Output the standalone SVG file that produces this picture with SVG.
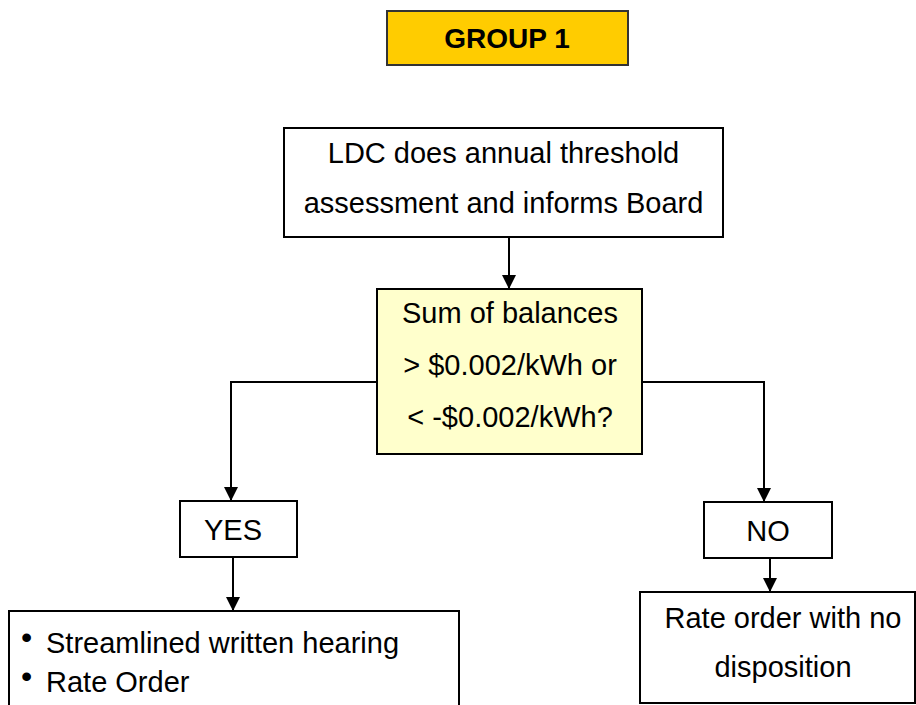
<svg xmlns="http://www.w3.org/2000/svg" width="916" height="705" viewBox="0 0 916 705">
<defs>
<style>
text{font-family:"Liberation Sans",Arial,sans-serif;font-size:29px;fill:#000}
.c{text-anchor:middle}
.box{fill:#fff;stroke:#000;stroke-width:2}
.conn{fill:none;stroke:#000;stroke-width:2}
.bul{font-size:32px}
</style>
<marker id="arr" viewBox="0 0 14 14" refX="14" refY="7" markerWidth="14" markerHeight="14" markerUnits="userSpaceOnUse" orient="auto">
<path d="M0,0 L14,7 L0,14 Z" fill="#000"/>
</marker>
</defs>
<rect width="916" height="705" fill="#fff"/>
<g id="connectors">
<path class="conn" d="M509,237 V289" marker-end="url(#arr)"/>
<path class="conn" d="M377,382 H231 V501" marker-end="url(#arr)"/>
<path class="conn" d="M642,382 H764 V502" marker-end="url(#arr)"/>
<path class="conn" d="M233,557 V611" marker-end="url(#arr)"/>
<path class="conn" d="M770,558 V592" marker-end="url(#arr)"/>
</g>
<g id="group1">
<rect x="387" y="11" width="241" height="54" fill="#FFCC00" stroke="#333" stroke-width="2"/>
<text class="c" x="507" y="48" font-weight="bold" style="font-size:28px">GROUP 1</text>
</g>
<g id="ldc">
<rect class="box" x="284" y="128" width="439" height="109"/>
<text class="c" x="503.5" y="163">LDC does annual threshold</text>
<text class="c" x="503.5" y="213">assessment and informs Board</text>
</g>
<g id="decision">
<rect x="377" y="289" width="265" height="165" fill="#FFFFCC" stroke="#000" stroke-width="2"/>
<text class="c" x="510" y="323">Sum of balances</text>
<text class="c" x="510" y="375">&gt; $0.002/kWh or</text>
<text class="c" x="510" y="427">&lt; -$0.002/kWh?</text>
</g>
<g id="yes">
<rect class="box" x="180" y="501" width="117" height="56"/>
<text class="c" x="233" y="540">YES</text>
</g>
<g id="no">
<rect class="box" x="704" y="502" width="128" height="56"/>
<text class="c" x="768" y="541">NO</text>
</g>
<g id="hearing">
<rect class="box" x="9" y="611" width="450" height="110"/>
<text class="bul" x="21" y="648">•</text>
<text x="46" y="653">Streamlined written hearing</text>
<text class="bul" x="21" y="687">•</text>
<text x="46" y="692">Rate Order</text>
</g>
<g id="rateorder">
<rect class="box" x="640" y="592" width="275" height="111"/>
<text class="c" x="783" y="628">Rate order with no</text>
<text class="c" x="783" y="677">disposition</text>
</g>
</svg>
